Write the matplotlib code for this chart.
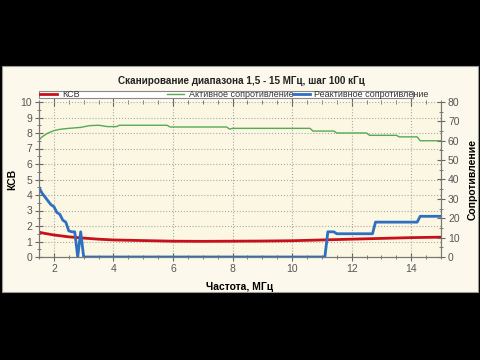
import matplotlib
matplotlib.use("Agg")
import matplotlib.pyplot as plt
from matplotlib.legend import Legend
from matplotlib.patches import Rectangle
from matplotlib.ticker import MultipleLocator

# frequency breakpoints (MHz) and values
ksvFreq = [1.5, 1.7, 2.0, 2.5, 3.0, 3.5, 4.0, 5.0, 6.0, 7.0, 8.0, 9.0, 10.0, 11.0, 12.0, 13.0, 14.0, 15.0]
ksvVal = [1.6, 1.52, 1.42, 1.3, 1.22, 1.15, 1.1, 1.06, 1.02, 1.01, 1.02, 1.03, 1.05, 1.1, 1.15, 1.2, 1.25, 1.28]

activeFreq = [1.5, 1.6, 1.7, 1.8, 2.0, 2.2, 2.5, 2.9, 3.2, 3.5, 3.8, 4.1, 4.2, 5.8, 5.9,
              7.8, 7.9, 8.0, 10.6, 10.7, 11.4, 11.5, 12.5, 12.6, 13.5, 13.6, 14.2, 14.3, 15.0]
activeVal = [60.4, 62, 63, 64, 65.2, 65.9, 66.4, 66.9, 67.8, 68, 67.3, 67.3, 68, 68, 67.1,
             67.1, 66, 66.4, 66.4, 65, 65, 64, 64, 62.8, 62.8, 62, 62, 60, 60]

reactFreq = [1.5, 1.6, 1.7, 1.8, 1.9, 2.0, 2.1, 2.2, 2.3, 2.4, 2.5, 2.6, 2.7, 2.8, 2.9, 3.0,
             11.1, 11.2, 11.4, 11.5, 12.6, 12.7, 12.8, 14.2, 14.3, 15.0]
reactVal = [36, 33, 31, 29, 27, 26, 23, 22, 19, 18, 13.5, 13, 13, 0, 13, 0,
            0, 13, 13, 12, 12, 12, 18, 18, 21, 21]

TITLE = "Сканирование диапазона 1,5 - 15 МГц, шаг 100 кГц"
LABELS = ["КСВ", "Активное сопротивление", "Реактивное сопротивление"]

plt.rcParams["font.family"] = ["Liberation Sans", "DejaVu Sans"]

fig = plt.figure(figsize=(4.8, 3.6), dpi=100, facecolor="black")
fig.patches.append(Rectangle((0.004, 0.189), 0.992, 0.628, transform=fig.transFigure,
                             facecolor="#FCF9EC", edgecolor="#999999", lw=0.8, zorder=-5))

ax = fig.add_axes([39 / 480, 103 / 360, 402 / 480, 155 / 360])
ax.set_facecolor("#FBF7E3")
ax2 = ax.twinx()

l1, = ax.plot(ksvFreq, ksvVal, color="#C8101A", lw=2, zorder=3)
l2, = ax2.plot(activeFreq, activeVal, color="#55AA55", lw=1)
l3, = ax2.plot(reactFreq, reactVal, color="#2E6FC0", lw=2)

ax.set_xlim(1.5, 15)
ax.set_ylim(0, 10)
ax2.set_ylim(0, 80)

ax.xaxis.set_major_locator(MultipleLocator(2))
ax.xaxis.set_minor_locator(MultipleLocator(0.5))
ax.yaxis.set_major_locator(MultipleLocator(1))
ax.yaxis.set_minor_locator(MultipleLocator(0.5))
ax2.yaxis.set_major_locator(MultipleLocator(10))
ax2.yaxis.set_minor_locator(MultipleLocator(5))

for a in (ax, ax2):
    a.tick_params(which="major", direction="inout", length=6, width=0.8, color="#666666",
                  labelsize=7.5, labelcolor="#555555", pad=2)
    a.tick_params(which="minor", direction="inout", length=3, width=0.6, color="#666666")
    for s in a.spines.values():
        s.set_color("#777777")
    a.spines["top"].set_visible(False)
ax.tick_params(which="both", top=True)

ax.grid(True, which="major", linestyle=":", color="#AAAAAA", lw=0.8)
ax.set_axisbelow(True)

ax.set_xlabel("Частота, МГц", fontsize=7.5, fontweight="bold", labelpad=6)
ax.set_ylabel("КСВ", fontsize=7.5, fontweight="bold", labelpad=2)
ax2.set_ylabel("Сопротивление", fontsize=7.5, fontweight="bold", labelpad=6)

fig.text(0.502, 0.776, TITLE, ha="center", va="center", fontsize=7.1, fontweight="bold", color="#222222")

# legend: one frame, three equally spaced entries
ax2.add_patch(Rectangle((0, 1.026), 0.93, 0.045, transform=ax2.transAxes, clip_on=False,
                        facecolor="white", edgecolor="#888888", lw=0.8, zorder=0))
for handle, label, xpos in zip([l1, l2, l3], LABELS, [0.003, 0.318, 0.631]):
    lg = Legend(ax2, [handle], [label], loc="center left", bbox_to_anchor=(xpos, 1.048),
                frameon=False, fontsize=6.5, borderpad=0, borderaxespad=0,
                handlelength=1.9, handletextpad=0.5, labelcolor="#333333")
    lg.set_zorder(10)
    ax2.add_artist(lg)

fig.savefig("out.png", dpi=100, facecolor=fig.get_facecolor())
